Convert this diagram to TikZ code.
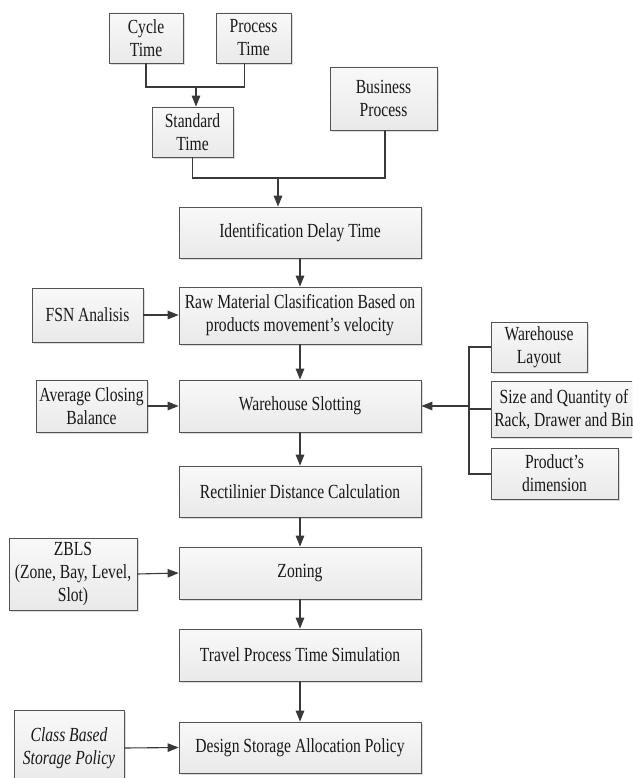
\documentclass[tikz,border=0pt]{standalone}
\usepackage{fontspec}
\setmainfont{Liberation Serif}[FakeStretch=0.78]
\usetikzlibrary{arrows.meta,shadows,calc}
\begin{document}
\begin{tikzpicture}[x=1pt,y=-1pt,
  box/.style={draw=gray!65!black, line width=0.7pt, top color=gray!5, bottom color=gray!17,
    drop shadow={shadow xshift=1.6pt, shadow yshift=-1.6pt, fill=gray!60, opacity=0.45},
    inner sep=0pt, align=center, text=black!90,
    font=\fontsize{20}{23}\selectfont},
  link/.style={draw=gray!45!black, line width=1.1pt},
  arr/.style={link, -{Triangle[length=11pt,width=8.5pt]}},
  brk/.style={draw=gray!45!black, line width=2pt}]
\useasboundingbox (0,0) rectangle (632,778);
\clip (0,0) rectangle (632,778);

% top section
\node[box, minimum width=74, minimum height=50] (cycle) at (146,38) {Cycle\\Time};
\node[box, minimum width=75, minimum height=50] (process) at (253.5,38) {Process\\Time};
\node[box, minimum width=81, minimum height=50] (standard) at (192.5,132) {Standard\\Time};
\node[box, minimum width=107, minimum height=63] (business) at (383.5,98.5) {Business\\Process};

% main column
\node[box, minimum width=242, minimum height=51] (ident) at (300,232.5) {Identification Delay Time};
\node[box, minimum width=242, minimum height=57] (raw) at (300,315.5) {Raw Material Clasification Based on\\products movement’s velocity};
\node[box, minimum width=242, minimum height=52] (slot) at (300,406) {Warehouse Slotting};
\node[box, minimum width=242, minimum height=51] (rect) at (300,491.5) {Rectilinier Distance Calculation};
\node[box, minimum width=242, minimum height=52] (zoning) at (300,573) {Zoning};
\node[box, minimum width=242, minimum height=52] (travel) at (300,655) {Travel Process Time Simulation};
\node[box, minimum width=242, minimum height=51] (design) at (300,747.5) {Design Storage Allocation Policy};

% left inputs
\node[box, minimum width=111, minimum height=54] (fsn) at (87.5,315) {FSN Analisis};
\node[box, minimum width=111, minimum height=52] (avg) at (91.5,406) {Average Closing\\Balance};
\node[box, minimum width=128, minimum height=72] (zbls) at (73,574) {ZBLS\\(Zone, Bay, Level,\\Slot)};
\node[box, minimum width=110, minimum height=76, font=\fontsize{20}{23}\selectfont\itshape] (class) at (69,748) {Class Based\\Storage Policy};

% right inputs
\node[box, minimum width=96, minimum height=50] (layout) at (539,347) {Warehouse\\Layout};
\node[box, minimum width=146, minimum height=56] (size) at (564,409) {Size and Quantity of\\Rack, Drawer and Bin};
\node[box, minimum width=127, minimum height=51] (prod) at (554.5,473.5) {Product’s\\dimension};

% top connectors
\coordinate (j1) at (196,87);
\coordinate (j2) at (278,178);
\draw[link] (cycle.south) |- (j1) -| ($(process.south)+(-9,0)$);
\draw[arr] (j1) -- (standard.north -| j1);
\draw[link] (standard.south) |- (j2) -| ($(business.south)+(1.5,0)$);
\draw[arr] (j2) -- (ident.north -| j2);

% main flow
\draw[arr] (ident.south) -- (raw.north);
\draw[arr] (raw.south) -- (slot.north);
\draw[arr] (slot.south) -- (rect.north);
\draw[arr] (rect.south) -- (zoning.north);
\draw[arr] (zoning.south) -- (travel.north);
\draw[arr] (travel.south) -- (design.north);

% left arrows
\draw[arr] (fsn.east) -- (fsn.east -| raw.west);
\draw[arr] (avg.east) -- (slot.west);
\draw[arr] (zbls.east) -- (zoning.west);
\draw[arr] (class.east) -- (design.west);

% right bracket
\coordinate (bx) at (469,0);
\draw[brk] (layout.west) -| (bx |- prod.west) -- (prod.west);
\draw[brk] (size.west) -- (size.west -| bx);
\draw[arr] (slot.east -| bx) -- (slot.east);
\end{tikzpicture}
\end{document}
